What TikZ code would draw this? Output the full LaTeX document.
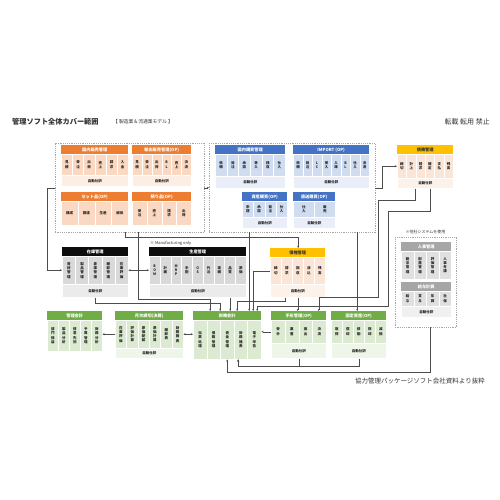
\documentclass[tikz,border=0pt]{standalone}
\usepackage{fontspec}
\setmainfont{Noto Sans CJK JP}
\usepackage{xcolor}
\definecolor{orH}{RGB}{237,125,49}
\colorlet{orC}{orH!30!white}
\colorlet{orJ}{orH!13!white}
\colorlet{orT}{white}
\definecolor{blH}{RGB}{68,114,196}
\colorlet{blC}{blH!25!white}
\colorlet{blJ}{blH!12!white}
\colorlet{blT}{white}
\definecolor{gdH}{RGB}{255,192,0}
\colorlet{gdC}{orH!20!white}
\colorlet{gdJ}{orH!10!white}
\colorlet{gdT}{black!80}
\colorlet{bkH}{black!95}
\colorlet{bkC}{black!15}
\colorlet{bkJ}{black!8}
\colorlet{bkT}{white}
\definecolor{grH}{RGB}{112,173,71}
\colorlet{grC}{grH!25!white}
\colorlet{grJ}{grH!12!white}
\colorlet{grT}{white}
\definecolor{gyH}{RGB}{166,166,166}
\colorlet{gyC}{black!12}
\colorlet{gyJ}{black!6}
\colorlet{gyT}{white}
\usepackage{tikz}
\usetikzlibrary{arrows.meta,calc,positioning}

\tikzset{
    grp/.style = {draw=black!35, dashed, dash pattern=on 1.2pt off 1pt, line width=0.45, inner sep=0},
    hdr/.style = {inner sep=0, minimum height=9, font=\fontsize{4.2}{4.2}\selectfont\bfseries},
    cellbox/.style = {draw=white, line width=0.5, inner sep=0, align=center, text=black!85, font=\fontsize{3.5}{4.3}\selectfont\bfseries},
    jbox/.style = {draw=white, line width=0.5, inner sep=0, text=black!85, font=\fontsize{3.5}{4}\selectfont\bfseries},
    conn/.style = {draw=black!70, line width=0.4},
    note/.style = {inner sep=0, text=black!80}
}

% module: name, x, y, width, title, colour, columns, cell height, labels
\newcommand{\module}[9]{%
    \node[hdr, fill=#6H, text=#6T, minimum width=#4, anchor=north west] (#1H) at (#2,#3) {#5};
    \node[inner sep=0, minimum width=#4, minimum height=#8, anchor=north west] (#1B) at (#2,#3+9) {};
    \foreach \lbl [count=\i from 0] in {#9}
        \node[cellbox, fill=#6C, minimum width=#4/#7, minimum height=#8, anchor=north west] at ({#2+\i*#4/#7},#3+9) {\lbl};
}
% journal row: name, x, y, width, height, colour
\newcommand{\jrnl}[6]{%
    \node[jbox, fill=#6J, minimum width=#4, minimum height=#5, anchor=north west] (#1J) at (#2,#3) {自動仕訳};
}

\begin{document}
\begin{tikzpicture}[x=1pt, y=-1pt, >={Stealth[length=2.2pt,width=2pt]}]
\useasboundingbox (0,0) rectangle (500,500);

% titles
\node[note, anchor=west, font=\fontsize{7.2}{8}\selectfont\bfseries] (title) at (12,122) {管理ソフト全体カバー範囲};
\node[note, anchor=west, font=\fontsize{4.8}{5}\selectfont] (subtitle) at (113,122) {【 製造業＆流通業モデル 】};
\node[note, anchor=east, font=\fontsize{7}{8}\selectfont] (notice) at (490,122) {転載 転用 禁止};
\node[note, anchor=west, font=\fontsize{4}{4}\selectfont] (mfg) at (150,243) {※ Manufacturing only};
\node[note, font=\fontsize{4}{4}\selectfont] (other) at (425.5,232) {※他社システムを使用};
\node[note, anchor=east, font=\fontsize{6.5}{7}\selectfont] (source) at (485,381) {協力管理パッケージソフト会社資料より抜粋};

% groups
\node[grp, minimum width=149, minimum height=89, anchor=north west] (grpA) at (55,143) {};
\node[grp, minimum width=166, minimum height=89, anchor=north west] (grpB) at (209,143) {};
\node[grp, minimum width=61, minimum height=90, anchor=north west] (grpC) at (395,237) {};

% sales
\module{hanbai}{61}{145}{67}{国内販売管理}{or}{6}{21}{{見\\積},{受\\注},{出\\荷},{売\\上},{請\\求},{入\\金}}
\jrnl{hanbai}{61}{175}{67}{11}{or}
\module{yushutsu}{132}{145}{59}{輸出販売管理(OP)}{or}{6}{21}{{見\\積},{受\\注},{出\\荷},{B\\L},{売\\上},{決\\済}}
\jrnl{yushutsu}{132}{175}{59}{11}{or}
\module{setto}{61}{192}{67}{セット品(OP)}{or}{4}{24}{構成,調達,生産,解体}
\module{azukari}{132}{192}{59}{預り品(OP)}{or}{4}{24}{{受\\注},{売\\上},{請\\求},{出\\荷}}

% purchase
\module{kobai}{215}{145}{70}{国内購買管理}{bl}{6}{22}{{依\\頼},{発\\注},{承\\認},{受\\入},{検\\収},{仕\\入}}
\jrnl{kobai}{215}{176}{70}{12}{bl}
\module{imp}{293}{145}{76}{IMPORT (OP)}{bl}{8}{22}{{依\\頼},{発\\注},{L\\C},{受\\入},{入\\庫},{B\\L},{仕\\入},{決\\済}}
\jrnl{imp}{293}{176}{76}{12}{bl}
\module{shisan}{242}{192}{45}{資産購買(OP)}{bl}{4}{16}{{申\\請},{承\\認},{発\\注},{仕\\入}}
\jrnl{shisan}{242}{217}{45}{11}{bl}
\module{chokuso}{293}{192}{42}{直送購買(OP)}{bl}{2}{16}{{仕\\入},{販\\売}}
\jrnl{chokuso}{293}{217}{42}{11}{bl}

% payables
\module{saimu}{397}{145}{56}{債務管理}{gd}{6}{24}{{締\\切},{計\\上},{請\\求},{確\\定},{支\\払},{残\\高}}
\jrnl{saimu}{397}{178}{56}{10}{gd}

% stock, production, receivables
\module{zaiko}{62}{247}{66}{在庫管理}{bk}{5}{28}{{資\\材\\管\\理},{製\\品\\管\\理},{倉\\庫\\管\\理},{棚\\卸\\管\\理},{在\\庫\\評\\価}}
\jrnl{zaiko}{62}{284}{66}{13}{bk}
\module{seisan}{149}{247}{97}{生産管理}{bk}{9}{28}{{B\\O\\M},{計\\画},{M\\R\\P},{手\\配},{O\\S},{外\\注},{実\\績},{品\\質},{原\\価}}
\jrnl{seisan}{149}{284}{97}{13}{bk}
\module{saiken}{270}{248}{55}{債権管理}{gd}{5}{27}{{締\\切},{請\\求},{回\\収},{消\\込},{残\\高}}
\jrnl{saiken}{270}{284}{55}{13}{gd}

% other system
\module{jinji}{401}{242}{50}{人事管理}{gy}{4}{28}{{勤\\怠\\管\\理},{配\\置\\管\\理},{評\\価\\管\\理},{人\\事\\考\\課}}
\module{kyuyo}{401}{282}{50}{給与計算}{gy}{4}{15}{{給\\与},{賞\\与},{年\\調},{社\\保}}
\jrnl{kyuyo}{401}{306}{50}{11}{gy}

% accounting
\module{kanri}{47}{311}{55}{管理会計}{gr}{5}{31}{{部\\門\\損\\益},{製\\品\\分\\析},{得\\意\\先\\別},{予\\算\\管\\理},{財\\務\\分\\析}}
\module{getsuji}{115}{311}{68}{月次締切(決算)}{gr}{6}{28}{{在\\庫\\評\\価},{評\\価\\計\\算},{原\\価\\配\\賦},{原\\価\\計\\算},{棚\\卸\\表},{財\\務\\諸\\表}}
\jrnl{getsuji}{115}{348}{68}{10}{gr}
\module{zaimu}{193}{311}{68}{財務会計}{gr}{5}{39}{{伝\\票\\処\\理},{債\\務\\管\\理},{資\\金\\管\\理},{財\\務\\諸\\表},{電\\子\\申\\告}}
\module{tegata}{271}{311}{55}{手形管理(OP)}{gr}{4}{23}{{受\\手},{裏\\書},{振\\出},{決\\済}}
\jrnl{tegata}{271}{343}{55}{15}{gr}
\module{kotei}{331}{311}{55}{固定資産(OP)}{gr}{5}{23}{{取\\得},{償\\却},{移\\動},{除\\却},{減\\損}}
\jrnl{kotei}{331}{343}{55}{15}{gr}

% connectors, top half
\draw[conn,->] (grpA.east) -- (grpB.west);
\draw[conn,->] (grpA.west) -- ++(-8,0) |- (zaikoB.west);
\draw[conn,->] (grpB.east) -- ++(7,0) |- (saimuB.west);
\draw[conn,<->] (zaikoB.east) -- (seisanB.west);
\draw[conn,->] ([xshift=-4.5]grpA.south) -- ++(0,5) -| ([xshift=0.5]saikenH.north);
\draw[conn,->] ([xshift=8.5]grpA.south) -- ++(0,67) -| ([xshift=-17]zaimuH.north);
\draw[conn,->] (zaikoJ.south) -- ++(0,6) -| ([xshift=-7]zaimuH.north);
\draw[conn,->] ([xshift=32.5]seisanJ.south) -- ([xshift=32.5]seisanJ.south |- zaimuH.north);
\draw[conn,->] ([xshift=-43]grpB.south) -- ([xshift=-43]grpB.south |- zaimuH.north);
\draw[conn,->] (saikenB.west) -| ([xshift=26]zaimuH.north);
\draw[conn,->] ([xshift=-12.5]saikenJ.south) -- ++(0,4) -| ([xshift=10]zaimuH.north);
\draw[conn,->] (saikenJ.south) -- (saikenJ.south |- tegataH.north);
\draw[conn,->] ([xshift=65]grpB.south) -- ([xshift=65]grpB.south |- koteiH.north);
\draw[conn,->] ([xshift=-10]saimuJ.south) -- ++(0,12) -- ++(-37,0) -- ++(0,97) -| ([xshift=20]tegataH.north);
\draw[conn,->] ([xshift=5]saimuJ.south) -- ++(0,23) -- ++(-42,0) -- ++(0,95) -| ([xshift=30]zaimuH.north);

% connectors, accounting row
\draw[conn,->] (tegataB.west) -- (tegataB.west -| zaimuB.east);
\draw[conn,<->] (getsujiB.east) -- (getsujiB.east -| zaimuB.west);
\draw[conn,->] (getsujiB.west) -- (getsujiB.west -| kanriB.east);
\draw[conn,->] (tegataJ.south) -- ++(0,8) -| ([xshift=11]zaimuB.south);
\draw[conn,->] (koteiJ.south) -- ++(0,8) -| ([xshift=11]zaimuB.south);
\draw[conn,->] ([xshift=4.5]grpC.south) -- ++(0,45) -| (zaimuB.south);
\end{tikzpicture}
\end{document}
